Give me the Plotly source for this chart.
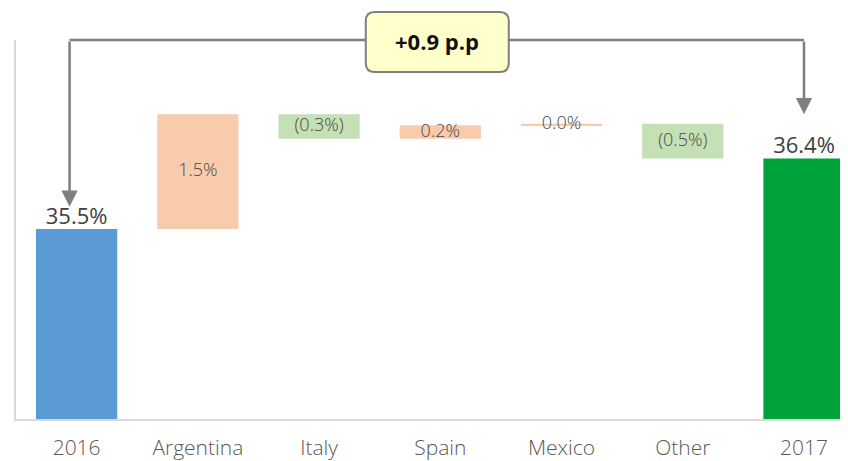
import plotly.graph_objects as go

# ---- data ----
categories = ["2016", "Argentina", "Italy", "Spain", "Mexico", "Other", "2017"]
start_value = 35.5
delta_values = [1.45, -0.31, 0.17, 0.02, -0.44]   # Argentina, Italy, Spain, Mexico, Other
end_value = 36.39
delta_labels = ["1.5%", "(0.3%)", "0.2%", "0.0%", "(0.5%)"]
total_labels = ["35.5%", "36.4%"]
change_label = "+0.9 p.p"

# ---- styles ----
C_START = "#5B9BD5"
C_END = "#00A33A"
C_UP = "#F8CBAD"
C_DOWN = "#C5E0B4"
C_ARROW = "#7F7F7F"
FONT = "Open Sans"

# ---- build waterfall geometry from data ----
bases, heights, colors, mids = [0], [start_value], [C_START], []
running = start_value
for d in delta_values:
    b = running if d >= 0 else running + d
    bases.append(b)
    heights.append(abs(d))
    colors.append(C_UP if d >= 0 else C_DOWN)
    mids.append(b + abs(d) / 2)
    running += d
bases.append(0)
heights.append(end_value)
colors.append(C_END)

y_lo = 33.1
y_hi = 37.8875

fig = go.Figure()
fig.add_trace(go.Bar(
    x=categories, y=heights, base=bases,
    marker=dict(color=colors, line=dict(width=0)),
    width=0.67, hoverinfo="skip", showlegend=False,
))
# delta labels centered in the floating bars
fig.add_trace(go.Scatter(
    x=categories[1:-1], y=mids, mode="text", text=delta_labels,
    textposition="middle center",
    textfont=dict(family=FONT, size=18, color="#484848", weight=300),
    hoverinfo="skip", showlegend=False,
))
# total labels above the end bars
fig.add_trace(go.Scatter(
    x=[categories[0], categories[-1]], y=[start_value, end_value], mode="text",
    text=total_labels, textposition="top center",
    textfont=dict(family=FONT, size=22, color="#404040", weight=400),
    hoverinfo="skip", showlegend=False,
))

# bracket with arrows
x_left = -0.058
x_right = 6.0
x_mid = 2.975
fig.add_shape(type="line", xref="x", yref="paper", x0=x_left, x1=x_right, y0=1, y1=1,
              line=dict(color=C_ARROW, width=2.5))
for xa, tip in [(x_left, start_value + 0.28), (x_right, end_value + 0.56)]:
    fig.add_annotation(x=xa, y=tip, ax=xa, ay=y_hi, xref="x", yref="y", axref="x", ayref="y",
                       showarrow=True, arrowhead=2, arrowsize=1.3, arrowwidth=2.5,
                       arrowcolor=C_ARROW, text="")
# rounded label box
r = 9
w2, top, bot = 71.5, 28, -32
path = (f"M {-w2+r},{top} L {w2-r},{top} Q {w2},{top} {w2},{top-r} "
        f"L {w2},{bot+r} Q {w2},{bot} {w2-r},{bot} L {-w2+r},{bot} "
        f"Q {-w2},{bot} {-w2},{bot+r} L {-w2},{top-r} Q {-w2},{top} {-w2+r},{top} Z")
fig.add_shape(type="path", path=path, xref="x", yref="paper", xsizemode="pixel", ysizemode="pixel",
              xanchor=x_mid, yanchor=1, fillcolor="#FFFFCC", line=dict(color=C_ARROW, width=2))
fig.add_annotation(x=x_mid, y=1, xref="x", yref="paper", yanchor="middle", xanchor="center",
                   yshift=-1, showarrow=False,
                   text=f"<b>{change_label}</b>", font=dict(family=FONT, size=22, color="#111111"))

# the page body has an 8px default margin, so the figure is sized to fill the rest
fig.update_layout(
    width=840, height=453,
    margin=dict(l=8, r=0, t=32, b=38),
    paper_bgcolor="white", plot_bgcolor="white",
    xaxis=dict(range=[-0.5, 6.363], showline=True, linecolor="#D9D9D9", linewidth=2,
               showgrid=False, zeroline=False, ticks="", ticklabelstandoff=9,
               tickfont=dict(family=FONT, size=21, color="#595959", weight=300)),
    yaxis=dict(range=[y_lo, y_hi], showline=True, linecolor="#D9D9D9", linewidth=2,
               showgrid=False, zeroline=False, showticklabels=False, ticks=""),
)

fig.write_html("out.html")
